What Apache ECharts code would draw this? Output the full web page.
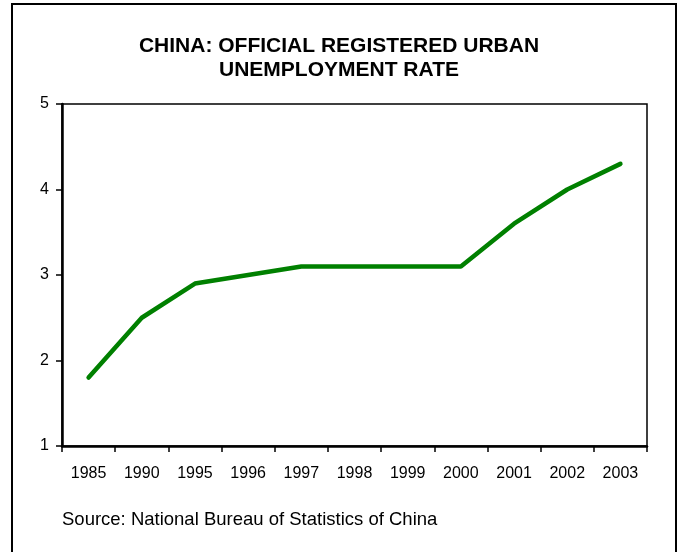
<!DOCTYPE html>
<html>
<head>
<meta charset="utf-8">
<script src="https://cdn.jsdelivr.net/npm/echarts@6/dist/echarts.min.js"></script>
<style>
  html, body { margin: 0; padding: 0; background: #fff; }
  #chart { width: 678px; height: 552px; }
</style>
</head>
<body>
<div id="chart"></div>
<script>
// Registered urban unemployment rate, percent
const years = ['1985', '1990', '1995', '1996', '1997', '1998', '1999', '2000', '2001', '2002', '2003'];
const unemploymentRate = [1.8, 2.5, 2.9, 3.0, 3.1, 3.1, 3.1, 3.1, 3.6, 4.0, 4.3];
const yTicks = [1, 2, 3, 4, 5];

const font = 'Liberation Sans, Arial, sans-serif';
const chart = echarts.init(document.getElementById('chart'));

chart.setOption({
  backgroundColor: '#ffffff',
  animation: false,
  title: {
    text: 'CHINA: OFFICIAL REGISTERED URBAN\nUNEMPLOYMENT RATE',
    left: 'center',
    top: 29,
    textStyle: {
      fontFamily: font,
      fontSize: 21,
      fontWeight: 'bold',
      color: '#000',
      lineHeight: 24
    }
  },
  graphic: [
    {
      type: 'rect',
      shape: { x: 12, y: 4, width: 664, height: 560 },
      style: { fill: 'none', stroke: '#000', lineWidth: 2 },
      silent: true
    },
    {
      type: 'text',
      x: 62,
      y: 520,
      style: {
        text: 'Source: National Bureau of Statistics of China',
        fontFamily: font,
        fontSize: 18.5,
        fill: '#000',
        verticalAlign: 'middle'
      }
    }
  ],
  grid: {
    left: 62,
    right: 31,
    top: 104,
    bottom: 106,
    show: true,
    borderColor: '#000',
    borderWidth: 1.5,
    backgroundColor: 'transparent'
  },
  xAxis: {
    type: 'category',
    data: years,
    boundaryGap: true,
    axisLine: { lineStyle: { color: '#000', width: 2.5 } },
    axisTick: { show: true, length: 6, lineStyle: { color: '#000', width: 1.5 } },
    axisLabel: { fontFamily: font, fontSize: 16, color: '#000', margin: 20, interval: 0 },
    splitLine: { show: false }
  },
  yAxis: {
    type: 'value',
    min: yTicks[0],
    max: yTicks[yTicks.length - 1],
    interval: 1,
    axisLine: { show: true, lineStyle: { color: '#000', width: 2.5 } },
    axisTick: { show: true, length: 6, lineStyle: { color: '#000', width: 1.5 } },
    axisLabel: { fontFamily: font, fontSize: 16, color: '#000', margin: 13 },
    splitLine: { show: false }
  },
  series: [
    {
      type: 'line',
      data: unemploymentRate,
      showSymbol: false,
      symbol: 'none',
      lineStyle: { color: '#008000', width: 4.5, cap: 'round', join: 'round' }
    }
  ]
});
</script>
</body>
</html>
